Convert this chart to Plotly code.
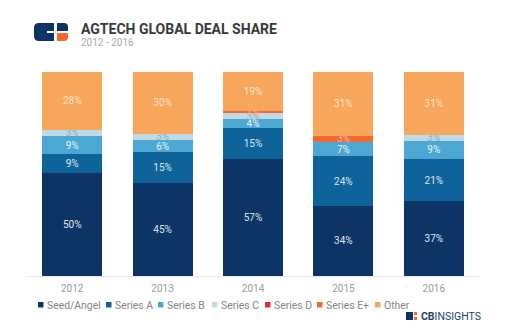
import plotly.graph_objects as go

years = ['2012', '2013', '2014', '2015', '2016']
seed_angel = [50, 45, 57, 34, 37]
series_a = [9, 15, 15, 24, 21]
series_b = [9, 6, 4, 7, 9]
series_c = [3, 3, 3, 0, 3]
series_d = [0, 0, 0, 0, 0]
series_e = [0, 0, 1, 3, 0]
other = [28, 30, 19, 31, 31]

series_names = ['Seed/Angel', 'Series A', 'Series B', 'Series C', 'Series D', 'Series E+', 'Other']
series_values = [seed_angel, series_a, series_b, series_c, series_d, series_e, other]
colors = ['#0c3565', '#0f639b', '#4ca8d2', '#bddce8', '#e2283c', '#f26934', '#f9a65d']
text_colors = ['#dfe6ef', '#dfe9f2', '#e8f4fa', '#8eaec0', '#ffffff', '#f7b8a0', '#fde3c8']

W, H = 510, 330
L, R, T, B = 27, 31, 72, 54
PW, PH = W - L - R, H - T - B


def px(x):
    return (x - L) / PW


def py(y):
    return (H - B - y) / PH


fig = go.Figure()
for name, vals, col, tcol in zip(series_names, series_values, colors, text_colors):
    fig.add_trace(go.Bar(
        x=years, y=vals, name=name,
        marker=dict(color=col, line=dict(width=0)),
        text=[f'{v}%' if v > 0 else '' for v in vals],
        textposition='inside', insidetextanchor='middle',
        textfont=dict(color=tcol, size=10, family='Roboto'),
        showlegend=False,
    ))

shapes = []
annotations = []

# Title
annotations.append(dict(x=px(79), y=py(29), xref='paper', yref='paper', xanchor='left', yanchor='middle',
                        text='<b>AGTECH GLOBAL DEAL SHARE</b>', showarrow=False,
                        font=dict(family='Roboto', size=14, color='#3a3a3a')))
annotations.append(dict(x=px(79), y=py(42), xref='paper', yref='paper', xanchor='left', yanchor='middle',
                        text='2012 - 2016', showarrow=False,
                        font=dict(family='Roboto', size=10, color='#aaaaaa')))

# Top-left logo
navy = '#0c3565'
orange = '#f26934'


def rect(x0, y0, x1, y1, color):
    return dict(type='rect', xref='paper', yref='paper', x0=px(x0), x1=px(x1), y0=py(y1), y1=py(y0),
                fillcolor=color, line=dict(width=0), layer='above')


def path_rounded(x0, y0, x1, y1, r, color):
    pts = (f'M {px(x0 + r)},{py(y0)} L {px(x1)},{py(y0)} L {px(x1)},{py(y1)} L {px(x0 + r)},{py(y1)} '
           f'Q {px(x0)},{py(y1)} {px(x0)},{py(y1 - r)} L {px(x0)},{py(y0 + r)} '
           f'Q {px(x0)},{py(y0)} {px(x0 + r)},{py(y0)} Z')
    return dict(type='path', xref='paper', yref='paper', path=pts, fillcolor=color,
                line=dict(width=0), layer='above')


shapes.append(path_rounded(34, 23, 54, 41, 5, navy))
shapes.append(rect(47, 31, 54, 33, 'white'))
shapes.append(dict(type='path', xref='paper', yref='paper',
                   path=(f'M {px(57)},{py(23)} L {px(64)},{py(23)} Q {px(68)},{py(23)} {px(68)},{py(27)} '
                         f'L {px(68)},{py(31)} L {px(57)},{py(31)} Z'),
                   fillcolor=navy, line=dict(width=0), layer='above'))
shapes.append(dict(type='path', xref='paper', yref='paper',
                   path=(f'M {px(57)},{py(33)} L {px(68)},{py(33)} L {px(68)},{py(37)} '
                         f'Q {px(68)},{py(41)} {px(64)},{py(41)} L {px(57)},{py(41)} Z'),
                   fillcolor=orange, line=dict(width=0), layer='above'))

# Legend (manual)
legend_sq_x = [38, 106, 158, 212, 265, 317, 375]
legend_y = 305
for name, col, sx in zip(series_names, colors, legend_sq_x):
    shapes.append(rect(sx, legend_y - 3, sx + 5.5, legend_y + 2.5, col))
    annotations.append(dict(x=px(sx + 7), y=py(legend_y), xref='paper', yref='paper', xanchor='left',
                            yanchor='middle', text=name, showarrow=False,
                            font=dict(family='Roboto', size=10.4, color='#858585')))

# Bottom-right CB Insights logo
shapes.append(rect(406, 312, 413, 320, navy))
shapes.append(rect(414, 312, 417, 315, orange))
shapes.append(rect(414, 317, 417, 320, orange))
annotations.append(dict(x=px(419), y=py(316), xref='paper', yref='paper', xanchor='left', yanchor='middle',
                        text='<b>CB</b>INSIGHTS', showarrow=False,
                        font=dict(family='Roboto', size=10.5, color='#1d3f6e')))

fig.update_layout(
    barmode='stack', barnorm='percent', bargap=0.336,
    width=W, height=H, margin=dict(l=L, r=R, t=T, b=B, pad=0),
    paper_bgcolor='white', plot_bgcolor='white',
    uniformtext=dict(minsize=10, mode='show'),
    xaxis=dict(showline=True, linecolor='#e6e6e6', linewidth=1, ticks='', showgrid=False,
               ticklabelstandoff=3,
               tickfont=dict(family='Roboto', size=10, color='#9a9a9a'), range=[-0.5, 4.5]),
    yaxis=dict(visible=False, range=[0, 100]),
    shapes=shapes, annotations=annotations,
    font=dict(family='Roboto'),
)

fig.write_html('out.html')
